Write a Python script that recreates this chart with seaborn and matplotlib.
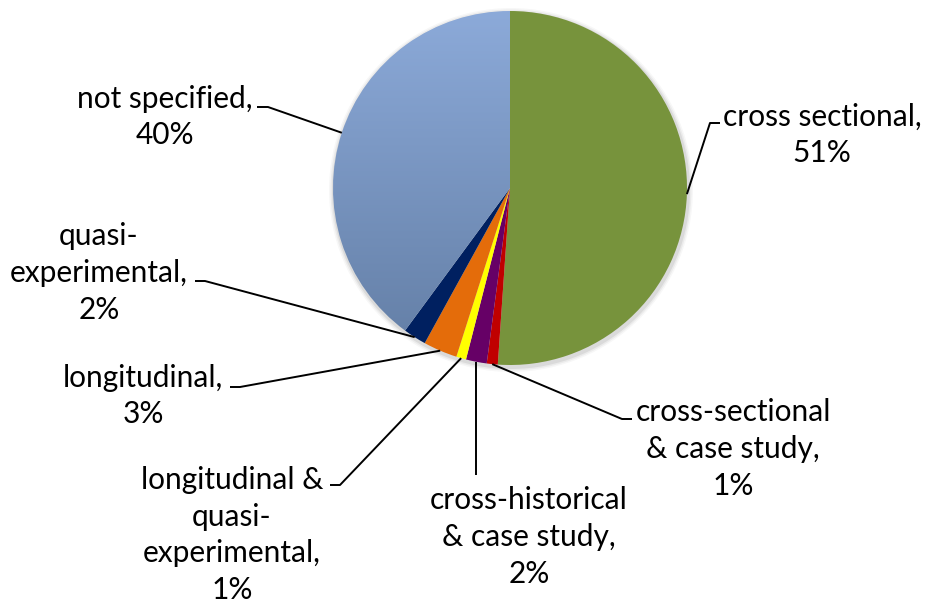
import numpy as np
import matplotlib
matplotlib.use("Agg")
import matplotlib.pyplot as plt
from matplotlib.colors import LinearSegmentedColormap
import seaborn as sns

# data (clockwise from 12 o'clock)
categories = ["cross sectional", "cross-sectional\n& case study", "cross-historical\n& case study",
              "longitudinal &\nquasi-\nexperimental", "longitudinal", "quasi-\nexperimental", "not specified"]
shares = [51.1, 1.0, 1.9, 0.9, 3.1, 2.1, 39.9]
colors = ["#77933C", "#C00000", "#660066", "#FFFF00", "#E46C0A", "#002060", "#86A3D4"]

sns.set_theme(style="white")
plt.rcParams["font.family"] = ["Lato", "DejaVu Sans"]

W, H = 926, 608
fig = plt.figure(figsize=(W / 100, H / 100), dpi=100)
ax = fig.add_axes([0, 0, 1, 1])

cx, cy, r = 510, H - 188, 177

# soft shadow round the pie
for k, a in zip([5, 3.5, 2], [0.03, 0.05, 0.08]):
    ax.add_patch(plt.Circle((cx + 1, cy - 2), r + k, color="k", alpha=a, lw=0, zorder=0))

wedges, _ = ax.pie(shares, colors=colors, startangle=90, counterclock=False,
                   center=(cx, cy), radius=r, wedgeprops=dict(linewidth=0))

# gradient fill for "not specified"
ns = wedges[-1]
ns.set_facecolor("none")
cmap = LinearSegmentedColormap.from_list("ns", ["#627DA4", "#8CAAD9"])
grad = np.linspace(0, 1, 256).reshape(-1, 1)
im = ax.imshow(grad, cmap=cmap, origin="lower", aspect="auto",
               extent=(cx - r, cx + r, cy - r, cy + r), zorder=1)
im.set_clip_path(ns)

# label layout: text centre, elbow of leader, end of horizontal stub (pixels from top-left)
layout = [
    ((822, 135), (710, 123), (720, 123)),
    ((733, 449), (622, 419), (632, 419)),
    ((529, 537), (476, 475), None),
    ((232, 535), (340, 485), (330, 485)),
    ((143, 396), (240, 387), (230, 387)),
    ((99, 273), (205, 281), (195, 281)),
    ((165, 117), (268, 107), (257, 107)),
]

for w, name, v, (txt, elbow, stub) in zip(wedges, categories, shares, layout):
    mid = np.deg2rad((w.theta1 + w.theta2) / 2)
    ex, ey = cx + r * np.cos(mid), cy + r * np.sin(mid)
    xs = [ex, elbow[0]]
    ys = [ey, H - elbow[1]]
    if stub is not None:
        xs.append(stub[0])
        ys.append(H - stub[1])
    else:
        xs[1] = ex
    ax.plot(xs, ys, color="black", lw=1.4, zorder=3, solid_capstyle="butt")
    ax.text(txt[0], H - txt[1], f"{name},\n{round(v)}%", ha="center", va="center",
            fontsize=21.5, linespacing=1.38, color="black")

ax.set_xlim(0, W)
ax.set_ylim(0, H)
ax.set_aspect("equal")
ax.axis("off")
fig.savefig("out.png", dpi=100, facecolor="white")
